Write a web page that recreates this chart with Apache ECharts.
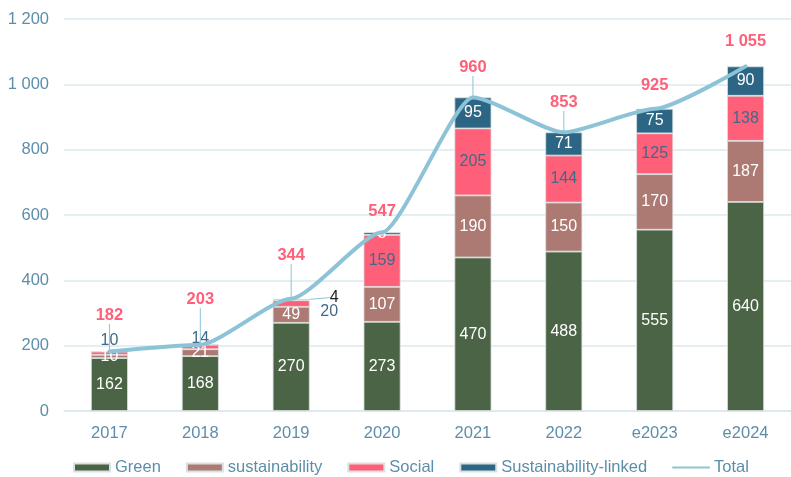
<!DOCTYPE html>
<html>
<head>
<meta charset="utf-8">
<script src="https://cdn.jsdelivr.net/npm/echarts@6/dist/echarts.min.js"></script>
<style>
  html, body { margin: 0; padding: 0; background: #fff; }
  #chart { width: 791px; height: 477px; }
</style>
</head>
<body>
<div id="chart"></div>
<script>
  const years = ['2017', '2018', '2019', '2020', '2021', '2022', 'e2023', 'e2024']
  const green = [162, 168, 270, 273, 470, 488, 555, 640]
  const sustainability = [10, 21, 49, 107, 190, 150, 170, 187]
  const social = [10, 14, 20, 159, 205, 144, 125, 138]
  const linked = [0, 0, 4, 8, 95, 71, 75, 90]
  const total = [182, 203, 344, 547, 960, 853, 925, 1055]

  const FONT = 'Liberation Sans, Arial, sans-serif'
  const AXIS_COLOR = '#5d8ea9'

  // 1 055 style numbers
  function fmt(v) {
    return String(v).replace(/\B(?=(\d{3})+$)/g, ' ')
  }

  // moved labels (dx, dy) for a few items, like the callouts in the original
  const socialShift = { 0: [0, -13], 1: [0, -8], 2: [38, 8] }
  const linkedShift = { 2: [43, -2] }
  const totalShift = [-22, -31, -29, -7, -16, -16, -9, -11]
  const totalLine = [true, true, true, false, true, true, false, false]

  const myChart = echarts.init(document.getElementById('chart'))

  const barBase = {
    type: 'bar',
    stack: 'all',
    barWidth: 37,
    itemStyle: { borderColor: '#d9e2e2', borderWidth: 0.8 },
    label: {
      show: true,
      position: 'inside',
      color: '#fff',
      fontSize: 16,
      fontFamily: FONT
    }
  }

  const option = {
    animation: false,
    textStyle: { fontFamily: FONT },
    grid: { left: 64, right: -8, top: 19, bottom: 66, containLabel: false },
    legend: {
      left: 68,
      top: 454,
      itemWidth: 36,
      itemHeight: 8,
      itemGap: 25,
      textStyle: { color: AXIS_COLOR, fontSize: 16.5, fontFamily: FONT },
      data: [
        { name: 'Green', icon: 'rect' },
        { name: 'sustainability', icon: 'rect' },
        { name: 'Social', icon: 'rect' },
        { name: 'Sustainability-linked', icon: 'rect' },
        { name: 'Total' }
      ]
    },
    xAxis: {
      type: 'category',
      data: years,
      axisLine: { lineStyle: { color: '#dbe8ef', width: 1.5 } },
      axisTick: { show: false },
      axisLabel: { color: AXIS_COLOR, fontSize: 16.5, margin: 14 }
    },
    yAxis: {
      type: 'value',
      min: 0,
      max: 1200,
      interval: 200,
      axisLine: { show: false },
      axisTick: { show: false },
      splitLine: { lineStyle: { color: '#dbe8ef', width: 1.5 } },
      axisLabel: { color: AXIS_COLOR, fontSize: 16.5, margin: 15, formatter: fmt }
    },
    series: [
      Object.assign({}, barBase, {
        name: 'Green',
        color: '#4a6445',
        data: green
      }),
      Object.assign({}, barBase, {
        name: 'sustainability',
        color: '#ad7a73',
        data: sustainability
      }),
      Object.assign({}, barBase, {
        name: 'Social',
        color: '#fe6079',
        label: Object.assign({}, barBase.label, { color: '#3f6a88' }),
        labelLayout: function (p) {
          const s = socialShift[p.dataIndex]
          return s ? { dx: s[0], dy: s[1] } : {}
        },
        data: social
      }),
      Object.assign({}, barBase, {
        name: 'Sustainability-linked',
        color: '#2c6684',
        labelLayout: function (p) {
          const s = linkedShift[p.dataIndex]
          return s ? { dx: s[0], dy: s[1] } : {}
        },
        labelLine: { show: false, length2: 0, lineStyle: { color: '#8cc3d6', width: 1 } },
        data: linked.map((v, i) => {
          if (v === 0) return { value: v, label: { show: false } }
          if (linkedShift[i]) {
            return { value: v, label: { color: '#222' }, labelLine: { show: true } }
          }
          return v
        })
      }),
      {
        name: 'Total',
        type: 'line',
        smooth: 0.2,
        smoothMonotone: 'x',
        symbol: 'circle',
        symbolSize: 1,
        showSymbol: true,
        color: '#8cc3d6',
        itemStyle: { color: 'rgba(0,0,0,0)', borderWidth: 0 },
        lineStyle: { width: 4, color: '#8cc3d6', cap: 'round' },
        z: 5,
        label: {
          show: true,
          position: 'top',
          color: '#fe6079',
          fontWeight: 'bold',
          fontSize: 16.5,
          fontFamily: FONT,
          formatter: p => fmt(p.value)
        },
        labelLayout: function (p) {
          return { dy: totalShift[p.dataIndex] }
        },
        labelLine: { show: true, length2: 0, lineStyle: { color: '#8cc3d6', width: 1 } },
        data: total.map((v, i) => ({ value: v, labelLine: { show: totalLine[i] } }))
      }
    ]
  }

  myChart.setOption(option)
</script>
</body>
</html>
